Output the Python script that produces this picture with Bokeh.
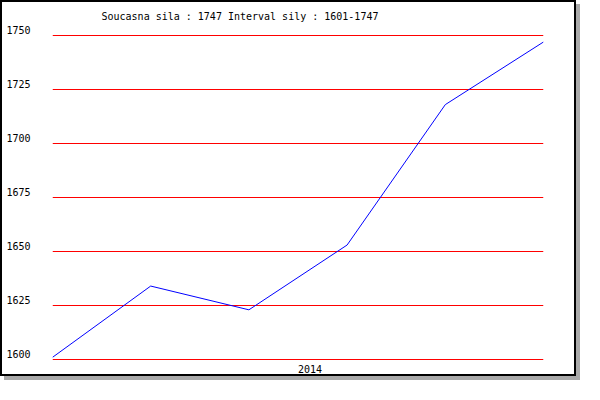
from bokeh.plotting import figure
from bokeh.models import FixedTicker, Range1d
from bokeh.embed import file_html
from bokeh.resources import INLINE

# ---- data ----
values = [1601, 1634, 1623, 1653, 1718, 1747]
x_idx = list(range(len(values)))
y_ticks = [1600, 1625, 1650, 1675, 1700, 1725, 1750]
x_label_text = "2014"
title_text = "Soucasna sila : %d  Interval sily : %d-%d" % (values[-1], min(values), max(values))

FONT = "DejaVu Sans Mono"

units_per_px = 25 / 54.0          # y data units per screen pixel
label_lift = 6 * units_per_px      # tick labels sit slightly above their grid line
pad_bottom = 1 * units_per_px
pad_top = 7 * units_per_px

p = figure(width=576, height=376, output_backend="svg", toolbar_location=None,
           x_range=Range1d(x_idx[0], x_idx[-1]),
           y_range=Range1d(y_ticks[0] - pad_bottom, y_ticks[-1] + pad_top),
           min_border_left=50, min_border_right=35, min_border_top=26, min_border_bottom=18)
p.styles = {"border": "2px solid black", "box-shadow": "4px 4px 0px #a9a9a9"}
p.outline_line_color = None
p.background_fill_color = "white"
p.border_fill_color = "white"

# title
p.title.text = title_text
p.title.text_font = FONT
p.title.text_font_size = "10px"
p.title.text_font_style = "normal"
p.title.text_color = "black"
p.title.align = "left"
p.title.offset = 49
p.title.standoff = 13

# y axis: labels lifted a few pixels above the grid lines
label_pos = [t + label_lift for t in y_ticks]
p.yaxis.ticker = FixedTicker(ticks=label_pos)
p.yaxis.major_label_overrides = {pos: str(t) for pos, t in zip(label_pos, y_ticks)}
p.yaxis.axis_line_color = None
p.yaxis.major_tick_line_color = None
p.yaxis.minor_tick_line_color = None
p.yaxis.major_tick_out = 0
p.yaxis.major_tick_in = 0
p.yaxis.major_label_standoff = 22
p.yaxis.major_label_text_font = FONT
p.yaxis.major_label_text_font_size = "10px"
p.yaxis.major_label_text_color = "black"

# x axis: single label, starting at the middle of the x range
px_per_unit = 491 / (x_idx[-1] - x_idx[0])
mid = (x_idx[0] + x_idx[-1]) / 2 + 12 / px_per_unit
p.xaxis.ticker = FixedTicker(ticks=[mid])
p.xaxis.major_label_overrides = {mid: x_label_text}
p.xaxis.axis_line_color = None
p.xaxis.major_tick_line_color = None
p.xaxis.minor_tick_line_color = None
p.xaxis.major_tick_out = 0
p.xaxis.major_tick_in = 0
p.xaxis.major_label_standoff = 4
p.xaxis.major_label_text_font = FONT
p.xaxis.major_label_text_font_size = "10px"
p.xaxis.major_label_text_color = "black"

# grid
p.xgrid.grid_line_color = None
p.ygrid.ticker = FixedTicker(ticks=y_ticks)
p.ygrid.grid_line_color = "#ff0000"
p.ygrid.grid_line_width = 1

p.line(x_idx, values, line_color="#0000ff", line_width=1)

open("out.html", "w").write(file_html(p, INLINE))
